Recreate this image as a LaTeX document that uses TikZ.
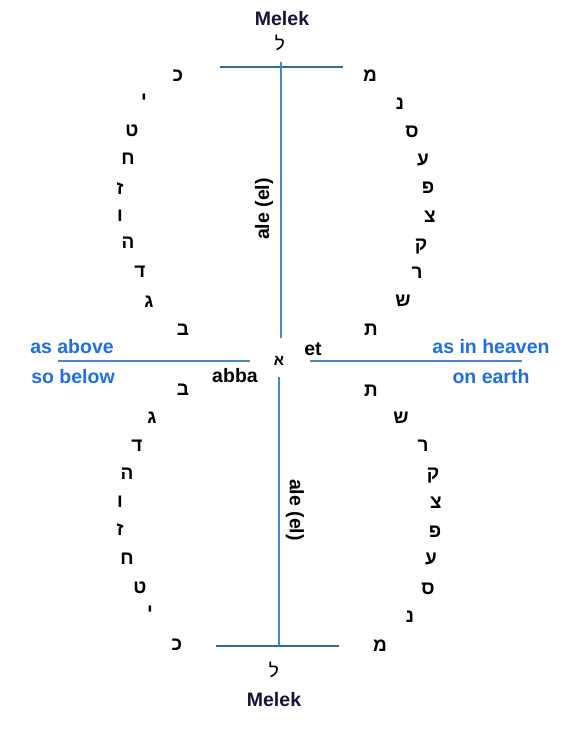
\documentclass[tikz,border=0pt]{standalone}
\usepackage{fontspec}
\setmainfont{Liberation Sans}
\newfontfamily\hebfont[Script=Hebrew]{Liberation Sans}
\definecolor{lineblue}{HTML}{4A86C8}
\definecolor{darkline}{HTML}{2F6E9E}
\definecolor{txtblue}{HTML}{1F6FE0}
\definecolor{navy}{HTML}{14143A}
\begin{document}
\begin{tikzpicture}[x=1pt,y=-1pt,
  hl/.style={font=\hebfont\bfseries\fontsize{19}{19}\selectfont, inner sep=0pt},
  lamedstyle/.style={font=\hebfont\fontsize{19}{19}\selectfont, inner sep=0pt},
  alephstyle/.style={font=\hebfont\bfseries\fontsize{15}{15}\selectfont, inner sep=0pt},
  lbl/.style={font=\bfseries\fontsize{19.5}{20}\selectfont, inner sep=0pt},
  bl/.style={lbl, text=txtblue},
  title/.style={lbl, text=navy},
  midln/.style={draw=lineblue, line width=1.2pt},
  endln/.style={draw=darkline, line width=1.1pt}]
\useasboundingbox (0,0) rectangle (576,734);

% titles and lamed
\node[title] (melekT) at (282,19) {Melek};
\node[lamedstyle] (lamedT) at (280,43) {ל};
\node[lamedstyle] (lamedB) at (274,670) {ל};
\node[title] (melekB) at (274,700) {Melek};

% line coordinates
\coordinate (tl) at (220,67);
\coordinate (tr) at (343,67);
\coordinate (vt1) at (281,62);
\coordinate (vt2) at (281,338);
\coordinate (ml1) at (58,361);
\coordinate (ml2) at (250,361);
\coordinate (mr1) at (310,361);
\coordinate (mr2) at (522,361);
\coordinate (vb1) at (279,377);
\coordinate (vb2) at (279,646);
\coordinate (bl1) at (216,646);
\coordinate (br1) at (339,646);

\draw[endln] (tl) -- (tr);
\draw[midln] (vt1) -- (vt2);
\draw[midln] (ml1) -- (ml2);
\draw[midln] (mr1) -- (mr2);
\draw[midln] (vb1) -- (vb2);
\draw[endln] (bl1) -- (br1);

% centre
\node[alephstyle] (aleph) at (279,361) {א};
\node[lbl] (et) at (313,349) {et};
\node[lbl] (abba) at (235,376) {abba};
\node[lbl, rotate=90] (aleU) at (264,209) {ale (el)};
\node[lbl, rotate=-90] (aleD) at (295,510) {ale (el)};

\node[bl] (asabove) at (72,347) {as above};
\node[bl] (sobelow) at (73,377) {so below};
\node[bl] (heaven) at (491,347) {as in heaven};
\node[bl] (earth) at (491,377) {on earth};

% upper left column
\node[hl] (kafU) at (178,76) {כ};
\node[hl] (yodU) at (144,100) {י};
\node[hl] (tetU) at (132,131) {ט};
\node[hl] (hetU) at (128,159) {ח};
\node[hl] (zayinU) at (120,189) {ז};
\node[hl] (vavU) at (120,216) {ו};
\node[hl] (heU) at (128,243) {ה};
\node[hl] (daletU) at (140,272) {ד};
\node[hl] (gimelU) at (149,302) {ג};
\node[hl] (betU) at (183,330) {ב};

% upper right column
\node[hl] (memU) at (370,76) {מ};
\node[hl] (nunU) at (400,104) {נ};
\node[hl] (samekhU) at (412,132) {ס};
\node[hl] (ayinU) at (423,160) {ע};
\node[hl] (peU) at (428,188) {פ};
\node[hl] (tsadiU) at (430,217) {צ};
\node[hl] (qofU) at (421,247) {ק};
\node[hl] (reshU) at (417,273) {ר};
\node[hl] (shinU) at (403,301) {ש};
\node[hl] (tavU) at (371,330) {ת};

% lower left column
\node[hl] (betD) at (183,390) {ב};
\node[hl] (gimelD) at (152,418) {ג};
\node[hl] (daletD) at (137,446) {ד};
\node[hl] (heD) at (127,474) {ה};
\node[hl] (vavD) at (120,502) {ו};
\node[hl] (zayinD) at (120,530) {ז};
\node[hl] (hetD) at (127,559) {ח};
\node[hl] (tetD) at (140,588) {ט};
\node[hl] (yodD) at (150,612) {י};
\node[hl] (kafD) at (177,645) {כ};

% lower right column
\node[hl] (tavD) at (371,391) {ת};
\node[hl] (shinD) at (401,418) {ש};
\node[hl] (reshD) at (423,446) {ר};
\node[hl] (qofD) at (433,476) {ק};
\node[hl] (tsadiD) at (436,503) {צ};
\node[hl] (peD) at (435,532) {פ};
\node[hl] (ayinD) at (431,559) {ע};
\node[hl] (samekhD) at (428,589) {ס};
\node[hl] (nunD) at (410,617) {נ};
\node[hl] (memD) at (380,646) {מ};
\end{tikzpicture}
\end{document}
